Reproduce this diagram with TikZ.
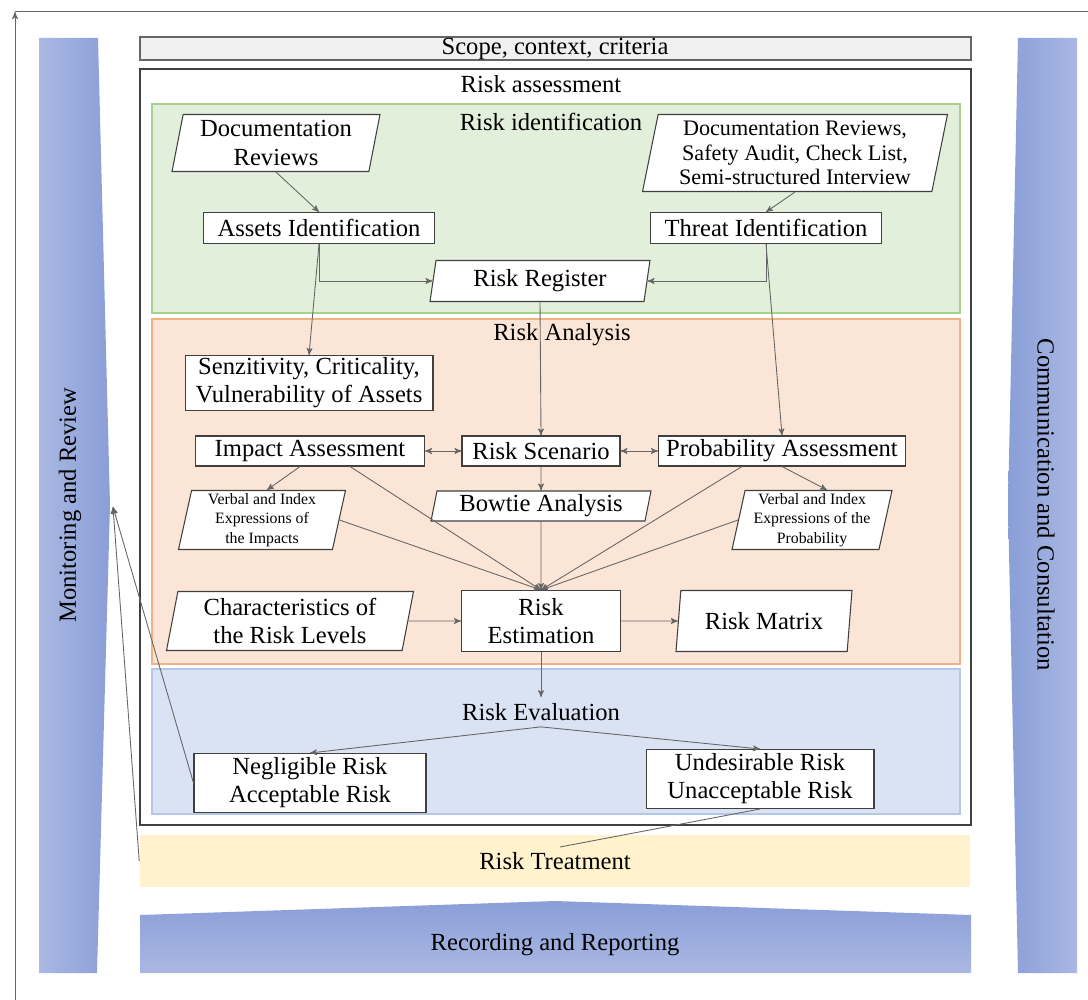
\documentclass[tikz,border=0pt]{standalone}
\usepackage{fontspec}
\setmainfont{Liberation Serif}
\usetikzlibrary{arrows,calc,shapes.geometric}

\definecolor{barlight}{HTML}{AAB8E2}
\definecolor{bardark}{HTML}{8A9ED8}
\definecolor{scopegray}{HTML}{F0F0F0}
\definecolor{idfill}{HTML}{E2EFDA}
\definecolor{iddraw}{HTML}{A9D18E}
\definecolor{anfill}{HTML}{FBE5D6}
\definecolor{andraw}{HTML}{F4B183}
\definecolor{evfill}{HTML}{DAE3F3}
\definecolor{evdraw}{HTML}{B4C7E7}
\definecolor{trfill}{HTML}{FFF2CC}

\begin{document}
\begin{tikzpicture}[x=0.02cm,y=-0.02cm,
  box/.style={draw=black!75,fill=white,line width=0.6pt,inner sep=1pt,align=center,font=\fontsize{14}{16}\selectfont},
  para/.style={box,trapezium,trapezium left angle=77,trapezium right angle=103,trapezium stretches body},
  small/.style={font=\fontsize{9}{11}\selectfont},
  lbl/.style={font=\fontsize{14}{16}\selectfont},
  flow/.style={draw=black!60,line width=0.5pt,->,>=stealth'},
  bflow/.style={flow,<->}]
\useasboundingbox (0,0) rectangle (1088,1000);

% frame line and side bars
\draw[flow] (15,1000) -- (15,12);
\draw[black!60,line width=0.5pt] (15,11) -- (1088,11);
\shade[left color=barlight,right color=bardark] (39,38) -- (98,38) -- (110,505) -- (97,973) -- (39,973) -- cycle;
\shade[left color=bardark,right color=barlight] (1018,38) -- (1077,38) -- (1077,973) -- (1018,973) -- (1008,505) -- cycle;
\shade[top color=bardark,bottom color=barlight] (140,915) -- (555,901) -- (971,915) -- (971,973) -- (140,973) -- cycle;
\node[lbl,rotate=90] (mon) at (70,505) {Monitoring and Review};
\node[lbl,rotate=-90] (com) at (1046,505) {Communication and Consultation};
\node[lbl] (rec) at (555,945) {Recording and Reporting};

% stages
\draw[black!60,fill=scopegray,line width=0.6pt] (140,37) rectangle (971,60);
\node[lbl] (scope) at (555,49) {Scope, context, criteria};
\draw[black!75,line width=0.6pt] (140,69) rectangle (971,825);
\node[lbl] (assess) at (541,84) {Risk assessment};
\draw[iddraw,fill=idfill,line width=0.6pt] (152,104) rectangle (960,313);
\node[lbl] (ident) at (551,122) {Risk identification};
\draw[andraw,fill=anfill,line width=0.6pt] (152,319) rectangle (960,664);
\node[lbl] (anal) at (562,335) {Risk Analysis};
\draw[evdraw,fill=evfill,line width=0.6pt] (152,669) rectangle (960,814);
\node[lbl] (eval) at (541,712) {Risk Evaluation};
\node[fill=trfill,minimum width=16.62cm,minimum height=1.04cm,lbl] (treat) at (555,861) {Risk Treatment};

% identification
\node[para,minimum width=4.16cm,minimum height=1.14cm] (doc1) at (276,143) {Documentation\\Reviews};
\node[box,minimum width=4.62cm,minimum height=0.62cm] (assets) at (319,228) {Assets Identification};
\node[para,minimum width=6.1cm,minimum height=1.54cm,font=\fontsize{12.6}{14}\selectfont] (doc2) at (795,153) {Documentation Reviews,\\Safety Audit, Check List,\\Semi-structured Interview};
\node[box,minimum width=4.62cm,minimum height=0.62cm] (threat) at (766,228) {Threat Identification};
\node[para,minimum width=4.4cm,minimum height=0.82cm] (reg) at (540,281) {Risk Register};

% analysis
\node[box,minimum width=4.96cm,minimum height=1.1cm] (sens) at (309,383) {Senzitivity, Criticality,\\Vulnerability of Assets};
\node[box,minimum width=4.58cm,minimum height=0.6cm] (impact) at (310,451) {Impact Assessment};
\node[box,minimum width=3.16cm,minimum height=0.6cm] (scen) at (541,451) {Risk Scenario};
\node[box,minimum width=4.94cm,minimum height=0.6cm] (prob) at (782,451) {Probability Assessment};
\node[para,minimum width=4.4cm,minimum height=0.6cm] (bowtie) at (541,506) {Bowtie Analysis};
\node[para,small,minimum width=3.34cm,minimum height=1.18cm] (vimp) at (262,520) {Verbal and Index\\Expressions of\\the Impacts};
\node[para,small,minimum width=3.2cm,minimum height=1.18cm] (vprob) at (812,520) {Verbal and Index\\Expressions of the\\Probability};
\node[box,minimum width=3.18cm,minimum height=1.22cm] (est) at (541,621) {Risk\\Estimation};
\node[para,minimum width=4.94cm,minimum height=1.18cm] (charac) at (290,621) {Characteristics of\\the Risk Levels};
\node[para,minimum width=3.52cm,minimum height=1.22cm] (matrix) at (764,621) {Risk Matrix};

% evaluation
\node[box,minimum width=4.64cm,minimum height=1.18cm] (neg) at (310,783) {Negligible Risk\\Acceptable Risk};
\node[box,minimum width=4.56cm,minimum height=1.18cm] (undes) at (760,779) {Undesirable Risk\\Unacceptable Risk};
\coordinate (mr) at (113,507);
\coordinate (tr) at (560,847);

% connectors
\draw[flow] (doc1.south) -- (assets.north);
\draw[flow] (doc2.south) -- (threat.north);
\draw[flow] (assets.south) |- (reg.west);
\draw[flow] (threat.south) |- (reg.east);
\draw[flow] (assets.south) -- (sens.north);
\draw[flow] (threat.south) -- (prob.north);
\draw[flow] (reg.south) -- (scen.north);
\draw[bflow] (impact) -- (scen);
\draw[bflow] (scen) -- (prob);
\draw[flow] (scen) -- (bowtie);
\draw[flow] ($(impact.south)+(-10,0)$) -- ($(vimp.north)+(5,0)$);
\draw[flow] (prob.south) -- ($(vprob.north)+(15,0)$);
\draw[flow] ($(impact.south)+(40,0)$) -- (est.north);
\draw[flow] (vimp.east) -- (est.north);
\draw[flow] (bowtie) -- (est.north);
\draw[flow] (vprob.west) -- (est.north);
\draw[flow] ($(prob.south)+(-40,0)$) -- (est.north);
\draw[flow] (charac) -- (est);
\draw[flow] (est) -- (matrix);
\draw[flow] (est) -- (eval);
\draw[flow] (eval.south) -- (neg.north);
\draw[flow] (eval.south) -- (undes.north);
\draw[flow] (neg.west) -- (mr);
\draw[flow] (treat.west) -- (mr);
\draw[black!60,line width=0.5pt] (undes.south) -- (tr);
\end{tikzpicture}
\end{document}
